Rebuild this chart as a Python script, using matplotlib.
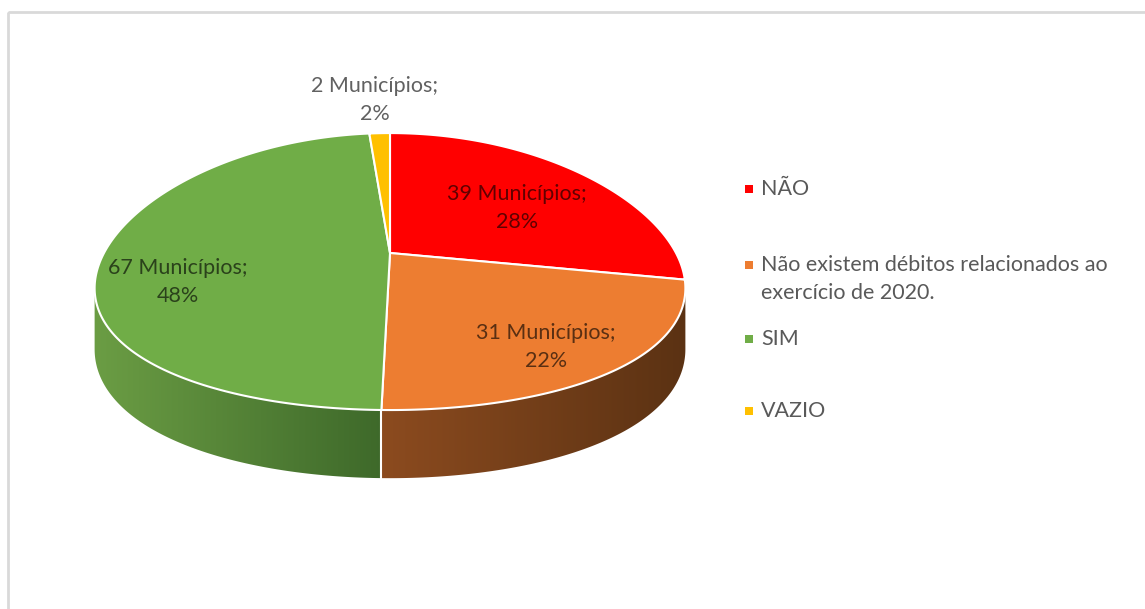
import numpy as np
import matplotlib.pyplot as plt
from matplotlib.patches import Polygon, Rectangle
from matplotlib.colors import to_rgb

# dados
categorias = ["NÃO", "Não existem débitos relacionados ao\nexercício de 2020.", "SIM", "VAZIO"]
municipios = [39, 31, 67, 2]
percentuais = [28, 22, 48, 2]

# estilo
cores = ["#FF0000", "#ED7D31", "#70AD47", "#FFC000"]
lado_claro = ["#b00000", "#8c4b1f", "#6b9d44", "#b08500"]
lado_escuro = ["#7a0000", "#5b3213", "#3e692a", "#7a5c00"]
pos_rotulos = [(517, 208), (546, 347), (178, 282), (375, 100)]
pos_legenda = [189, 265, 339, 411]
cor_texto = (0, 0, 0, 0.62)
FS = 15.5

plt.rcParams['font.family'] = ['Lato', 'DejaVu Sans']

# geometria da pizza 3D (pixels)
CX, CY = 390.0, 253.0
A, B = 286.0, 136.0
KX, KY = 0.25, 0.134
PROF = 59.0


def proj(phi, r=1.0, z=0.0):
    u = r * np.sin(phi)
    v = r * np.cos(phi)
    x = CX + A * u / (1 + KX * v)
    sy = 1 / (1 + KY * v)
    y = CY - B * v * sy + z * PROF * sy
    return x, y


fig = plt.figure(figsize=(11.45, 6.09), dpi=100)
ax = fig.add_axes([0, 0, 1, 1])
ax.axis('off')

# moldura
ax.add_patch(Rectangle((8, 12), 1200, 700, fill=False, edgecolor='#d9d9d9', lw=2))

total = sum(municipios)
fr = np.cumsum([0] + municipios) / total
angs = fr * 2 * np.pi

phiL = np.arccos(-KX)
phiR = 2 * np.pi - phiL

# paredes laterais com degradê
for i in range(len(municipios)):
    a0 = max(angs[i], phiL)
    a1 = min(angs[i + 1], phiR)
    if a1 <= a0:
        continue
    ph = np.linspace(a0, a1, 200)
    xt, yt = proj(ph)
    xb, yb = proj(ph, z=1.0)
    pts = list(zip(xt, yt)) + list(zip(xb[::-1], yb[::-1]))
    poly = Polygon(pts, closed=True, facecolor='none', edgecolor='none')
    ax.add_patch(poly)
    xmin, xmax = min(xt.min(), xb.min()), max(xt.max(), xb.max())
    ymin, ymax = min(yt.min(), yb.min()), max(yt.max(), yb.max())
    c1 = np.array(to_rgb(lado_claro[i]))
    c2 = np.array(to_rgb(lado_escuro[i]))
    t = np.linspace(0, 1, 256)[:, None]
    grad = (c1 * (1 - t) + c2 * t)[None, :, :]
    im = ax.imshow(grad, extent=(xmin - 1, xmax + 1, ymax + 1, ymin - 1), aspect='auto',
                   interpolation='bilinear', zorder=1)
    im.set_clip_path(poly)

# separadores das paredes
for a in angs:
    if phiL < a < phiR:
        x0, y0 = proj(a)
        x1, y1 = proj(a, z=1.0)
        ax.plot([x0, x1], [y0, y1], color='white', lw=1.5, zorder=2)

# topo
for i in range(len(municipios)):
    ph = np.linspace(angs[i], angs[i + 1], 200)
    xs, ys = proj(ph)
    pts = [(CX, CY)] + list(zip(xs, ys))
    ax.add_patch(Polygon(pts, closed=True, facecolor=cores[i], edgecolor='white',
                         lw=1.5, joinstyle='round', zorder=3))

# rótulos
for i in range(len(municipios)):
    x, y = pos_rotulos[i]
    ax.text(x, y, f"{municipios[i]} Municípios;\n{percentuais[i]}%", ha='center', va='center',
            fontsize=FS, color=cor_texto, linespacing=1.45, zorder=4)

# legenda
for i in range(len(categorias)):
    y = pos_legenda[i]
    ax.scatter([749], [y], marker='s', s=30, color=cores[i], linewidths=0, zorder=4)
    for k, linha in enumerate(categorias[i].split('\n')):
        ax.text(761, y + 28 * k, linha, ha='left', va='center', fontsize=FS, color='#595959')

ax.set_xlim(0, 1145)
ax.set_ylim(609, 0)
fig.savefig('out.png', dpi=100)
